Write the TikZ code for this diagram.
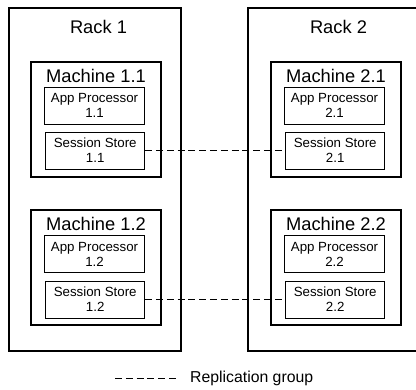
\documentclass[tikz,border=0pt]{standalone}
\usepackage{fontspec}
\setmainfont{Liberation Sans}
\usetikzlibrary{positioning}
\tikzset{rack/.style={rectangle, draw, line width=2.6pt, inner sep=0pt,
   minimum width=172pt, minimum height=343pt}}
\tikzset{machine/.style={rectangle, draw, line width=1.4pt, inner sep=0pt,
   minimum width=130pt, minimum height=115pt}}
\tikzset{part/.style={rectangle, draw, line width=0.9pt, inner sep=0pt,
   minimum width=99pt, minimum height=37pt, align=center,
   font=\fontsize{13.3}{15}\selectfont}}
\tikzset{title/.style={font=\fontsize{18.3}{20}\selectfont, inner sep=0pt}}
\tikzset{repl/.style={dash pattern=on 7pt off 3.8pt, line width=0.9pt}}

\begin{document}
\begin{tikzpicture}[x=1pt, y=-1pt]

    \useasboundingbox (0,0) rectangle (416,390);

    % racks
    \node[rack] (r1) at (95,179.5) {};
    \node[rack] (r2) at (334,179.5) {};
    \node[title] at (98.5,27) {Rack 1};
    \node[title] at (338.5,27) {Rack 2};

    % machines
    \node[machine] (m11) at (96,119.5) {};
    \node[machine] (m12) at (96,267.5) {};
    \node[machine] (m21) at (336,119.5) {};
    \node[machine] (m22) at (336,267.5) {};

    \node[title] at (96,76)  {Machine 1.1};
    \node[title] at (96,224) {Machine 1.2};
    \node[title] at (336,76)  {Machine 2.1};
    \node[title] at (336,224) {Machine 2.2};

    % processors and stores
    \node[part, minimum width=100pt] (ap11) at (94.5,105.5) {App Processor\\1.1};
    \node[part] (ss11) at (95.2,150.5) {Session Store\\1.1};
    \node[part, minimum width=100pt] (ap12) at (94.5,254) {App Processor\\1.2};
    \node[part] (ss12) at (95.2,299.5) {Session Store\\1.2};

    \node[part, minimum width=100pt] (ap21) at (334.5,105.5) {App Processor\\2.1};
    \node[part] (ss21) at (335.2,150.5) {Session Store\\2.1};
    \node[part, minimum width=100pt] (ap22) at (334.5,254) {App Processor\\2.2};
    \node[part] (ss22) at (335.2,299.5) {Session Store\\2.2};

    % replication
    \draw[repl] (ss11.east) -- (ss21.west);
    \draw[repl] (ss12.east) -- (ss22.west);

    % legend
    \coordinate (ka) at (115,378);
    \coordinate (kb) at (179,378);
    \draw[repl] (ka) -- (kb);
    \node[anchor=west, inner sep=0pt, font=\fontsize{15.8}{18}\selectfont]
      (key) at (190,378) {Replication group};

  \end{tikzpicture}
\end{document}
